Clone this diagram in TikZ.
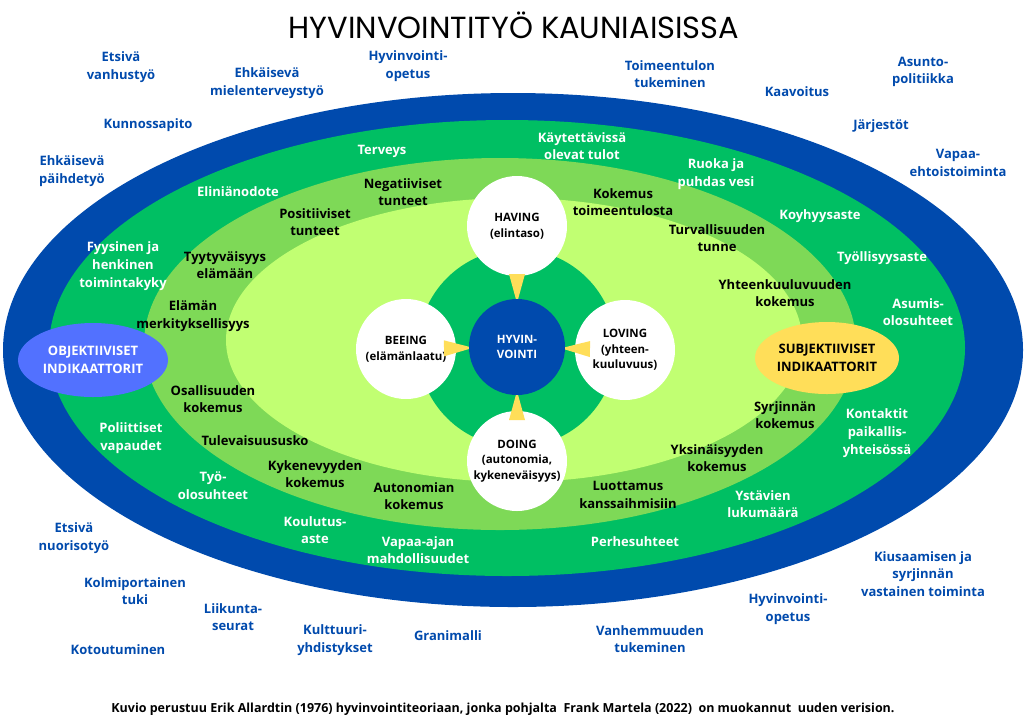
\documentclass[tikz,border=0pt]{standalone}
\usepackage{fontspec}
\setmainfont{Open Sans}
\newfontfamily\titlefont{Poppins}
\usetikzlibrary{calc, shapes.geometric}

\definecolor{dblue}{HTML}{004AAD}
\definecolor{grn}{HTML}{00BF63}
\definecolor{mgrn}{HTML}{7ED957}
\definecolor{lgrn}{HTML}{C1FF72}
\definecolor{yel}{HTML}{FFDE59}
\definecolor{oblue}{HTML}{5271FF}

\tikzset{
  lbl/.style={align=center, inner sep=0pt, font=\fontsize{13}{17.7}\selectfont\bfseries},
  outlbl/.style={lbl, text=dblue},
  wlbl/.style={lbl, text=white},
  blbl/.style={lbl, text=black},
  core/.style={circle, fill=white, minimum size=100pt, inner sep=0pt, align=center,
    font=\fontsize{11.5}{15.7}\selectfont\bfseries},
  indic/.style={ellipse, inner sep=0pt, align=center, font=\fontsize{13}{17.5}\selectfont\bfseries},
}

\begin{document}
\begin{tikzpicture}[x=1pt,y=-1pt]

\useasboundingbox (0,0) rectangle (1024,724);
\fill[white] (0,0) rectangle (1024,724);

% rings
\fill[dblue] (513,350) ellipse [x radius=510pt, y radius=257pt];
\fill[grn] (507,348) ellipse [x radius=458pt, y radius=228pt];
\fill[mgrn] (500,344) ellipse [x radius=356pt, y radius=186pt];
\fill[lgrn] (514,340) ellipse [x radius=288pt, y radius=142pt];

% core
\coordinate (hub) at (517,347);
\fill[grn] (517,348) circle [radius=99pt];

\node[core] (having) at (517,226) {HAVING\\(elintaso)};
\node[core] (beeing) at (406,349) {BEEING\\(elämänlaatu)};
\node[core] (loving) at (625,350) {LOVING\\(yhteen-\\kuuluvuus)};
\node[core] (doing) at (517,461) {DOING\\(autonomia,\\kykeneväisyys)};

\foreach \n in {having,beeing,loving,doing}
  \fill[yel] ($(hub)!44pt!(\n.center)$) -- ($(hub)!73pt!(\n.center)!8pt!90:(\n.center)$)
    -- ($(hub)!73pt!(\n.center)!8pt!-90:(\n.center)$) -- cycle;

\node[core, fill=dblue, text=white, minimum size=96pt] (hyv) at (hub) {HYVIN-\\VOINTI};

% indicators
\node[indic, fill=oblue, text=white, minimum width=150pt, minimum height=74pt] (obj) at (93,360)
  {OBJEKTIIVISET\\INDIKAATTORIT};
\node[indic, fill=yel, text=black, minimum width=144pt, minimum height=72pt] (subj) at (827,358)
  {SUBJEKTIIVISET\\INDIKAATTORIT};

% outer labels
\foreach [count=\i] \x/\y/\t in {121/67/{Etsivä\\vanhustyö}, 267/83/{Ehkäisevä\\mielenterveystyö},
    408/66/{Hyvinvointi-\\opetus}, 148/125/{Kunnossapito}, 72/171/{Ehkäisevä\\päihdetyö},
    670/74/{Toimeentulon\\tukeminen}, 797/92/{Kaavoitus}, 923/72/{Asunto-\\politiikka},
    881/126/{Järjestöt}, 958/163/{Vapaa-\\ehtoistoiminta}, 74/538/{Etsivä\\nuorisotyö},
    135/591/{Kolmiportainen\\tuki}, 233/617/{Liikunta-\\seurat}, 118/650/{Kotoutuminen},
    335/640/{Kulttuuri-\\yhdistykset}, 448/636/{Granimalli}, 650/639/{Vanhemmuuden\\tukeminen},
    788/609/{Hyvinvointi-\\opetus}, 923/574/{Kiusaamisen ja\\syrjinnän\\vastainen toiminta}}
  \node[outlbl] (out\i) at (\x,\y) {\t};

% green ring
\foreach [count=\i] \x/\y/\t in {382/151/{Terveys}, 238/192/{Eliniänodote},
    582/146/{Käytettävissä\\olevat tulot}, 716/174/{Ruoka ja\\puhdas vesi}, 820/216/{Koyhyysaste},
    123/266/{Fyysinen ja\\henkinen\\toimintakyky}, 882/258/{Työllisyysaste},
    918/312/{Asumis-\\olosuhteet}, 877/433/{Kontaktit\\paikallis-\\yhteisössä},
    131/438/{Poliittiset\\vapaudet}, 213/486/{Työ-\\olosuhteet}, 315/530/{Koulutus-\\aste},
    418/550/{Vapaa-ajan\\mahdollisuudet}, 763/504/{Ystävien\\lukumäärä}, 635/542/{Perhesuhteet}}
  \node[wlbl] (grn\i) at (\x,\y) {\t};

% inner rings
\foreach [count=\i] \x/\y/\t in {403/192/{Negatiiviset\\tunteet}, 315/222/{Positiiviset\\tunteet},
    623/202/{Kokemus\\toimeentulosta}, 717/238/{Turvallisuuden\\tunne},
    225/265/{Tyytyväisyys\\elämään}, 193/316/{Elämän\\merkityksellisyys},
    785/293/{Yhteenkuuluvuuden\\kokemus}, 213/399/{Osallisuuden\\kokemus},
    255/441/{Tulevaisuususko}, 315/474/{Kykenevyyden\\kokemus}, 785/415/{Syrjinnän\\kokemus},
    717/458/{Yksinäisyyden\\kokemus}, 414/496/{Autonomian\\kokemus},
    628/495/{Luottamus\\kanssaihmisiin}}
  \node[blbl] (inn\i) at (\x,\y) {\t};

% title and source
\node[font=\titlefont\fontsize{30.5}{32}\selectfont, inner sep=0pt] (title) at (514,25)
  {HYVINVOINTITYÖ KAUNIAISISSA};
\node[font=\fontsize{12.5}{14}\selectfont\bfseries, inner sep=0pt] (src) at (503,709)
  {Kuvio perustuu Erik Allardtin (1976) hyvinvointiteoriaan, jonka pohjalta\ \ Frank Martela (2022)\ \ on muokannut\ \ uuden verision.};

\end{tikzpicture}
\end{document}
